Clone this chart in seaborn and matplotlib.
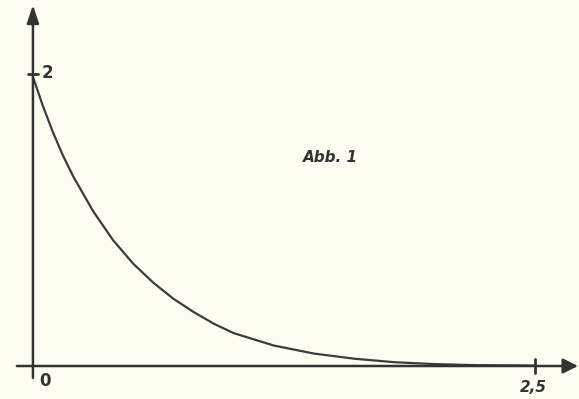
import matplotlib
matplotlib.use("Agg")
import matplotlib.pyplot as plt
import seaborn as sns
import pandas as pd

# Curve points
x_vals = [0.0, 0.05, 0.1, 0.15, 0.2, 0.3, 0.4, 0.5, 0.6, 0.7, 0.8, 0.9, 1.0,
          1.2, 1.4, 1.6, 1.8, 2.0, 2.2, 2.5]
y_vals = [1.98, 1.78, 1.60, 1.44, 1.30, 1.06, 0.86, 0.70, 0.57, 0.46, 0.37, 0.29,
          0.225, 0.14, 0.085, 0.05, 0.026, 0.013, 0.006, 0.003]
x_tick_labels = ["0", "2,5"]
y_tick_labels = ["2"]
title_text = "Abb. 1"

df = pd.DataFrame({"x": x_vals, "y": y_vals})

sns.set_style("white")
plt.rcParams['font.family'] = ['DejaVu Sans']

bg = "#fdfdf1"
ink = "#333333"

fig = plt.figure(figsize=(5.79, 3.99), dpi=100, facecolor=bg)
ax = fig.add_axes([0, 0, 1, 1])
ax.set_facecolor(bg)

sns.lineplot(data=df, x="x", y="y", ax=ax, color="#3c3c3c", lw=1.6)

ax.set_xlim(-0.164, 2.719)
ax.set_ylim(-0.226, 2.507)
ax.axis("off")

# axes with arrows
ax.annotate("", xy=(0, 2.473), xytext=(0, -0.082),
            arrowprops=dict(arrowstyle="-|>,head_length=0.6,head_width=0.2", lw=1.8,
                            color=ink, mutation_scale=18, shrinkA=0, shrinkB=0))
ax.annotate("", xy=(2.714, 0), xytext=(-0.08, 0),
            arrowprops=dict(arrowstyle="-|>,head_length=0.5,head_width=0.25", lw=1.8,
                            color=ink, mutation_scale=18, shrinkA=0, shrinkB=0))

# ticks
ax.plot([-0.025, 0.025], [2.0, 2.0], color=ink, lw=2)
ax.plot([2.5, 2.5], [-0.045, 0.045], color=ink, lw=2)

# labels
ax.text(0.045, 2.01, y_tick_labels[0], fontsize=12, fontweight="bold", color=ink,
        ha="left", va="center")
ax.text(0.03, -0.10, x_tick_labels[0], fontsize=12, fontweight="bold", color=ink,
        ha="left", va="center")
ax.text(2.49, -0.15, x_tick_labels[1], fontsize=11, fontweight="bold", style="italic",
        color=ink, ha="center", va="center")
ax.text(1.484, 1.43, title_text, fontsize=11, fontweight="bold", style="italic",
        color=ink, ha="center", va="center")

fig.savefig("out.png", dpi=100, facecolor=bg)
